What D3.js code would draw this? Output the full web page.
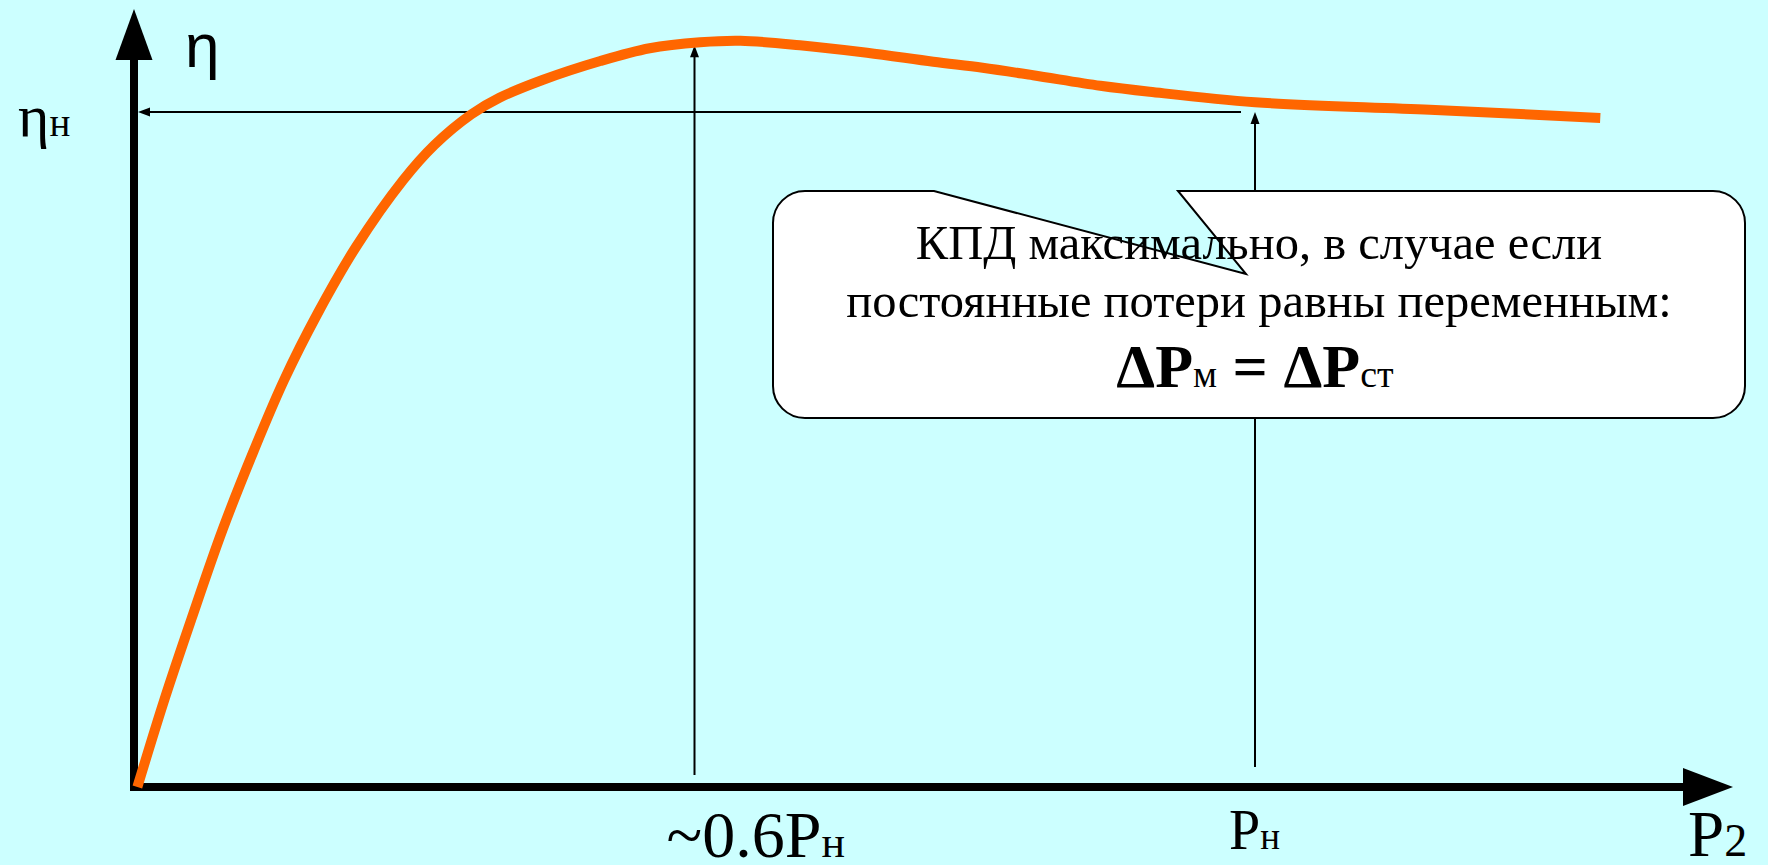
<!DOCTYPE html>
<html>
<head>
<meta charset="utf-8">
<script src="https://cdn.jsdelivr.net/npm/d3@7"></script>
<style>
  html, body { margin: 0; padding: 0; background: #ccffff; overflow: hidden; }
  svg { display: block; }
</style>
</head>
<body>
<div id="chart"></div>
<script>
// load P2 in units of rated power Pн, efficiency relative (ηн = 0.9)
const loadP2 = [0.003, 0.027, 0.051, 0.079, 0.107, 0.134, 0.164, 0.198, 0.240, 0.268, 0.301, 0.326,
  0.365, 0.416, 0.460, 0.505, 0.541, 0.594, 0.654, 0.713, 0.757, 0.802, 0.862, 0.906, 1.0, 1.156, 1.308];
const eta = [0, 0.116, 0.223, 0.343, 0.449, 0.543, 0.632, 0.720, 0.809, 0.856, 0.897, 0.919,
  0.943, 0.968, 0.985, 0.993, 0.995, 0.989, 0.979, 0.967, 0.959, 0.949, 0.935, 0.927, 0.913, 0.903, 0.892];

const dropX = [0.5, 1.0];          // drop lines: max efficiency, rated load
const dropTop = [0.989, 0.9];      // where their arrows end
const dropLabels = [['~0.6P', 'н'], ['P', 'н']];
const etaRated = 0.9;

const calloutLines = ['КПД максимально, в случае если', 'постоянные потери равны переменным:'];
const formulaParts = [['ΔP', 'big'], ['м', 'small'], [' = ', 'big'], ['ΔP', 'big'], ['ст', 'small']];

const W = 1768, H = 865;
const x = d3.scaleLinear().domain([0, 1]).range([134, 1255]);
const y = d3.scaleLinear().domain([0, 1]).range([787, 37]);

const svg = d3.select('#chart').append('svg')
  .attr('width', W).attr('height', H);

svg.append('rect').attr('width', W).attr('height', H).attr('fill', '#ccffff');

const serif = '"Liberation Serif", "Times New Roman", serif';
const sans = '"Liberation Sans", Arial, sans-serif';

// ── Axes ──
svg.append('line')
  .attr('x1', x(0)).attr('x2', x(0))
  .attr('y1', y(0) + 4).attr('y2', 58)
  .attr('stroke', '#000').attr('stroke-width', 8);
svg.append('path')
  .attr('d', `M${x(0)},9 L${x(0) - 18.5},60 L${x(0) + 18.5},60 Z`)
  .attr('fill', '#000');

svg.append('line')
  .attr('x1', x(0) - 4).attr('x2', 1688)
  .attr('y1', y(0)).attr('y2', y(0))
  .attr('stroke', '#000').attr('stroke-width', 8);
svg.append('path')
  .attr('d', `M1733,${y(0)} L1683,${y(0) - 19} L1683,${y(0) + 19} Z`)
  .attr('fill', '#000');

// small arrow helper
function arrowHead(tx, ty, dir) {
  const L = 12, w = 4.5;
  if (dir === 'up') return `M${tx},${ty} L${tx - w},${ty + L} L${tx + w},${ty + L} Z`;
  return `M${tx},${ty} L${tx + L},${ty - w} L${tx + L},${ty + w} Z`;
}

// ηн reference line
svg.append('line')
  .attr('x1', x(0) + 12).attr('x2', 1241)
  .attr('y1', y(etaRated)).attr('y2', y(etaRated))
  .attr('stroke', '#000').attr('stroke-width', 2);
svg.append('path').attr('d', arrowHead(x(0) + 4, y(etaRated), 'left')).attr('fill', '#000');

// drop lines
const dropBottom = [775, 767];
dropX.forEach((v, i) => {
  svg.append('line')
    .attr('x1', x(v)).attr('x2', x(v))
    .attr('y1', dropBottom[i]).attr('y2', y(dropTop[i]) + 10)
    .attr('stroke', '#000').attr('stroke-width', 2);
  svg.append('path').attr('d', arrowHead(x(v), y(dropTop[i]), 'up')).attr('fill', '#000');
});

// ── Curve ──
const pts = loadP2.map((v, i) => [v, eta[i]]);
const line = d3.line()
  .x(d => x(d[0]))
  .y(d => y(d[1]))
  .curve(d3.curveCatmullRom.alpha(0.5));

svg.append('path')
  .datum(pts)
  .attr('fill', 'none')
  .attr('stroke', '#ff6600')
  .attr('stroke-width', 10)
  .attr('stroke-linecap', 'butt')
  .attr('d', line);

// ── Callout ──
const box = { x0: 773, y0: 191, x1: 1745, y1: 418, r: 32 };
const notch = { a: 934, b: 1178, tx: 1246, ty: 274 };
const r = box.r;
const calloutPath =
  `M${box.x0 + r},${box.y0} L${notch.a},${box.y0} L${notch.tx},${notch.ty} L${notch.b},${box.y0} ` +
  `L${box.x1 - r},${box.y0} A${r},${r} 0 0 1 ${box.x1},${box.y0 + r} ` +
  `L${box.x1},${box.y1 - r} A${r},${r} 0 0 1 ${box.x1 - r},${box.y1} ` +
  `L${box.x0 + r},${box.y1} A${r},${r} 0 0 1 ${box.x0},${box.y1 - r} ` +
  `L${box.x0},${box.y0 + r} A${r},${r} 0 0 1 ${box.x0 + r},${box.y0} Z`;

svg.append('path')
  .attr('d', calloutPath)
  .attr('fill', '#fff')
  .attr('stroke', '#000')
  .attr('stroke-width', 2);

const cx = (box.x0 + box.x1) / 2;
const lineY = [259, 317];
calloutLines.forEach((t, i) => {
  svg.append('text')
    .attr('x', cx).attr('y', lineY[i])
    .attr('text-anchor', 'middle')
    .style('font-family', serif).style('font-size', '48.5px')
    .attr('fill', '#000')
    .text(t);
});

const formula = svg.append('text')
  .attr('x', cx - 4).attr('y', 387)
  .attr('text-anchor', 'middle')
  .style('font-family', serif)
  .attr('fill', '#000');
formulaParts.forEach(([t, kind]) => {
  formula.append('tspan')
    .style('font-size', kind === 'big' ? '62px' : '38px')
    .style('font-weight', kind === 'big' ? 'bold' : 'normal')
    .text(t);
});

// ── Labels ──
svg.append('text')
  .attr('x', 185).attr('y', 67)
  .style('font-family', sans).style('font-size', '62px')
  .text('η');

const etaN = svg.append('text')
  .attr('x', 18).attr('y', y(etaRated) + 24)
  .style('font-family', serif);
etaN.append('tspan').style('font-size', '60px').text('η');
etaN.append('tspan').style('font-size', '39px').text('н');

const labelPos = [{ dx: -28, y: 857, fs: 66 }, { dx: -26, y: 849, fs: 56 }];
dropLabels.forEach((lab, i) => {
  const t = svg.append('text')
    .attr('x', x(dropX[i]) + labelPos[i].dx).attr('y', labelPos[i].y)
    .style('font-family', serif);
  t.append('tspan').style('font-size', labelPos[i].fs + 'px').text(lab[0]);
  t.append('tspan').style('font-size', Math.round(labelPos[i].fs * 0.66) + 'px').text(lab[1]);
});

const p2 = svg.append('text')
  .attr('x', 1688).attr('y', 856)
  .style('font-family', serif);
p2.append('tspan').style('font-size', '65px').text('P');
p2.append('tspan').style('font-size', '46px').text('2');
</script>
</body>
</html>
